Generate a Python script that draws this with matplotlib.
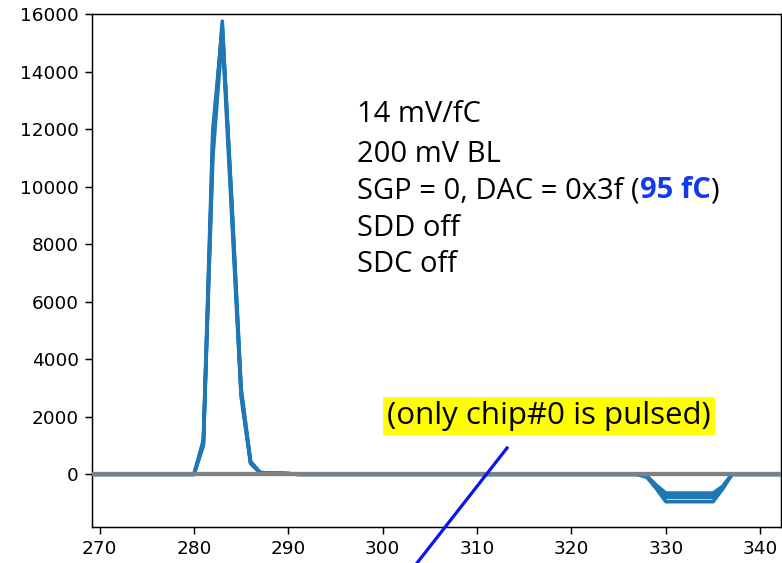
import numpy as np
import matplotlib
matplotlib.use("Agg")
import matplotlib.pyplot as plt
from matplotlib.lines import Line2D

# ---- data ----
x_samples = [262, 280, 281, 282, 283, 284, 285, 286, 287, 288, 289, 290, 291,
             327, 328, 329, 330, 331, 332, 333, 334, 335, 336, 337, 350]
trace_a = [0, 0, 1100, 11300, 15750, 9300, 2800, 420, 60, 40, 40, 30, 0,
           0, -60, -380, -650, -650, -650, -650, -650, -650, -420, 0, 0]
trace_b = [0, 0, 1200, 12000, 15500, 9600, 3000, 450, 70, 40, 40, 30, 0,
           0, -80, -420, -730, -730, -730, -730, -730, -730, -450, 0, 0]
trace_c = [0, 0, 1000, 11000, 15300, 9000, 2700, 380, 50, 30, 30, 20, 0,
           0, -90, -450, -800, -800, -800, -800, -800, -800, -480, 0, 0]
trace_d = [0, 0, 1050, 11600, 15600, 9400, 2900, 400, 60, 30, 30, 20, 0,
           0, -100, -500, -950, -950, -950, -950, -950, -950, -520, 0, 0]
traces = [trace_a, trace_b, trace_c, trace_d]

x_ticks = [270, 280, 290, 300, 310, 320, 330, 340]
y_ticks = [0, 2000, 4000, 6000, 8000, 10000, 12000, 14000, 16000]

info_lines = ["14 mV/fC", "200 mV BL", "SGP = 0, DAC = 0x3f (", "SDD off", "SDC off"]
highlight_part = "95 fC"
note_text = "(only chip#0 is pulsed)"

W, H, DPI = 782, 563, 100
fig = plt.figure(figsize=(W / DPI, H / DPI), dpi=DPI)
ax = fig.add_axes([92 / W, 1 - 527 / H, (781 - 92) / W, (527 - 14) / H])

for tr in traces:
    ax.plot(x_samples, tr, color="#1f77b4", lw=2.6, solid_joinstyle="round")
ax.axhline(0, color="#808080", lw=3.1, zorder=5)

ax.set_xlim(269.2, 342.2)
ax.set_ylim(-1830, 16000)
ax.set_xticks(x_ticks)
ax.set_yticks(y_ticks)
ax.tick_params(labelsize=13.3, length=4.7, width=1.07, pad=4.7)
for s in ax.spines.values():
    s.set_linewidth(1.07)

font = "Open Sans"
fs = 21
line_y = [115, 154, 191, 228, 265]
text_x = 357
parts = []
for txt, yy in zip(info_lines, line_y):
    t = fig.text(text_x / W, 1 - yy / H, txt, fontsize=fs, family=font,
                 va="center", ha="left", color="black")
    parts.append(t)

fig.canvas.draw()
r = fig.canvas.get_renderer()
bb = parts[2].get_window_extent(r)
t2 = fig.text(bb.x1 / W, 1 - line_y[2] / H, highlight_part, fontsize=fs,
              family=font, fontweight="bold", color="#1238f0", va="center", ha="left")
fig.canvas.draw()
bb2 = t2.get_window_extent(r)
fig.text(bb2.x1 / W, 1 - line_y[2] / H, ")", fontsize=fs, family=font,
         va="center", ha="left", color="black")

fig.text(387 / W, 1 - 416 / H, note_text, fontsize=22.5, family=font,
         va="center", ha="left", color="black",
         bbox=dict(boxstyle="square,pad=0.13", fc="#ffff00", ec="none"))

# hand-drawn pointer line
x0, y0, x1, y1 = 507, 448, 410, 572
fig.add_artist(Line2D([x0 / W, x1 / W], [1 - y0 / H, 1 - y1 / H],
                      transform=fig.transFigure, color="#0a14f0", lw=2.3))

fig.savefig("out.png", dpi=DPI)
